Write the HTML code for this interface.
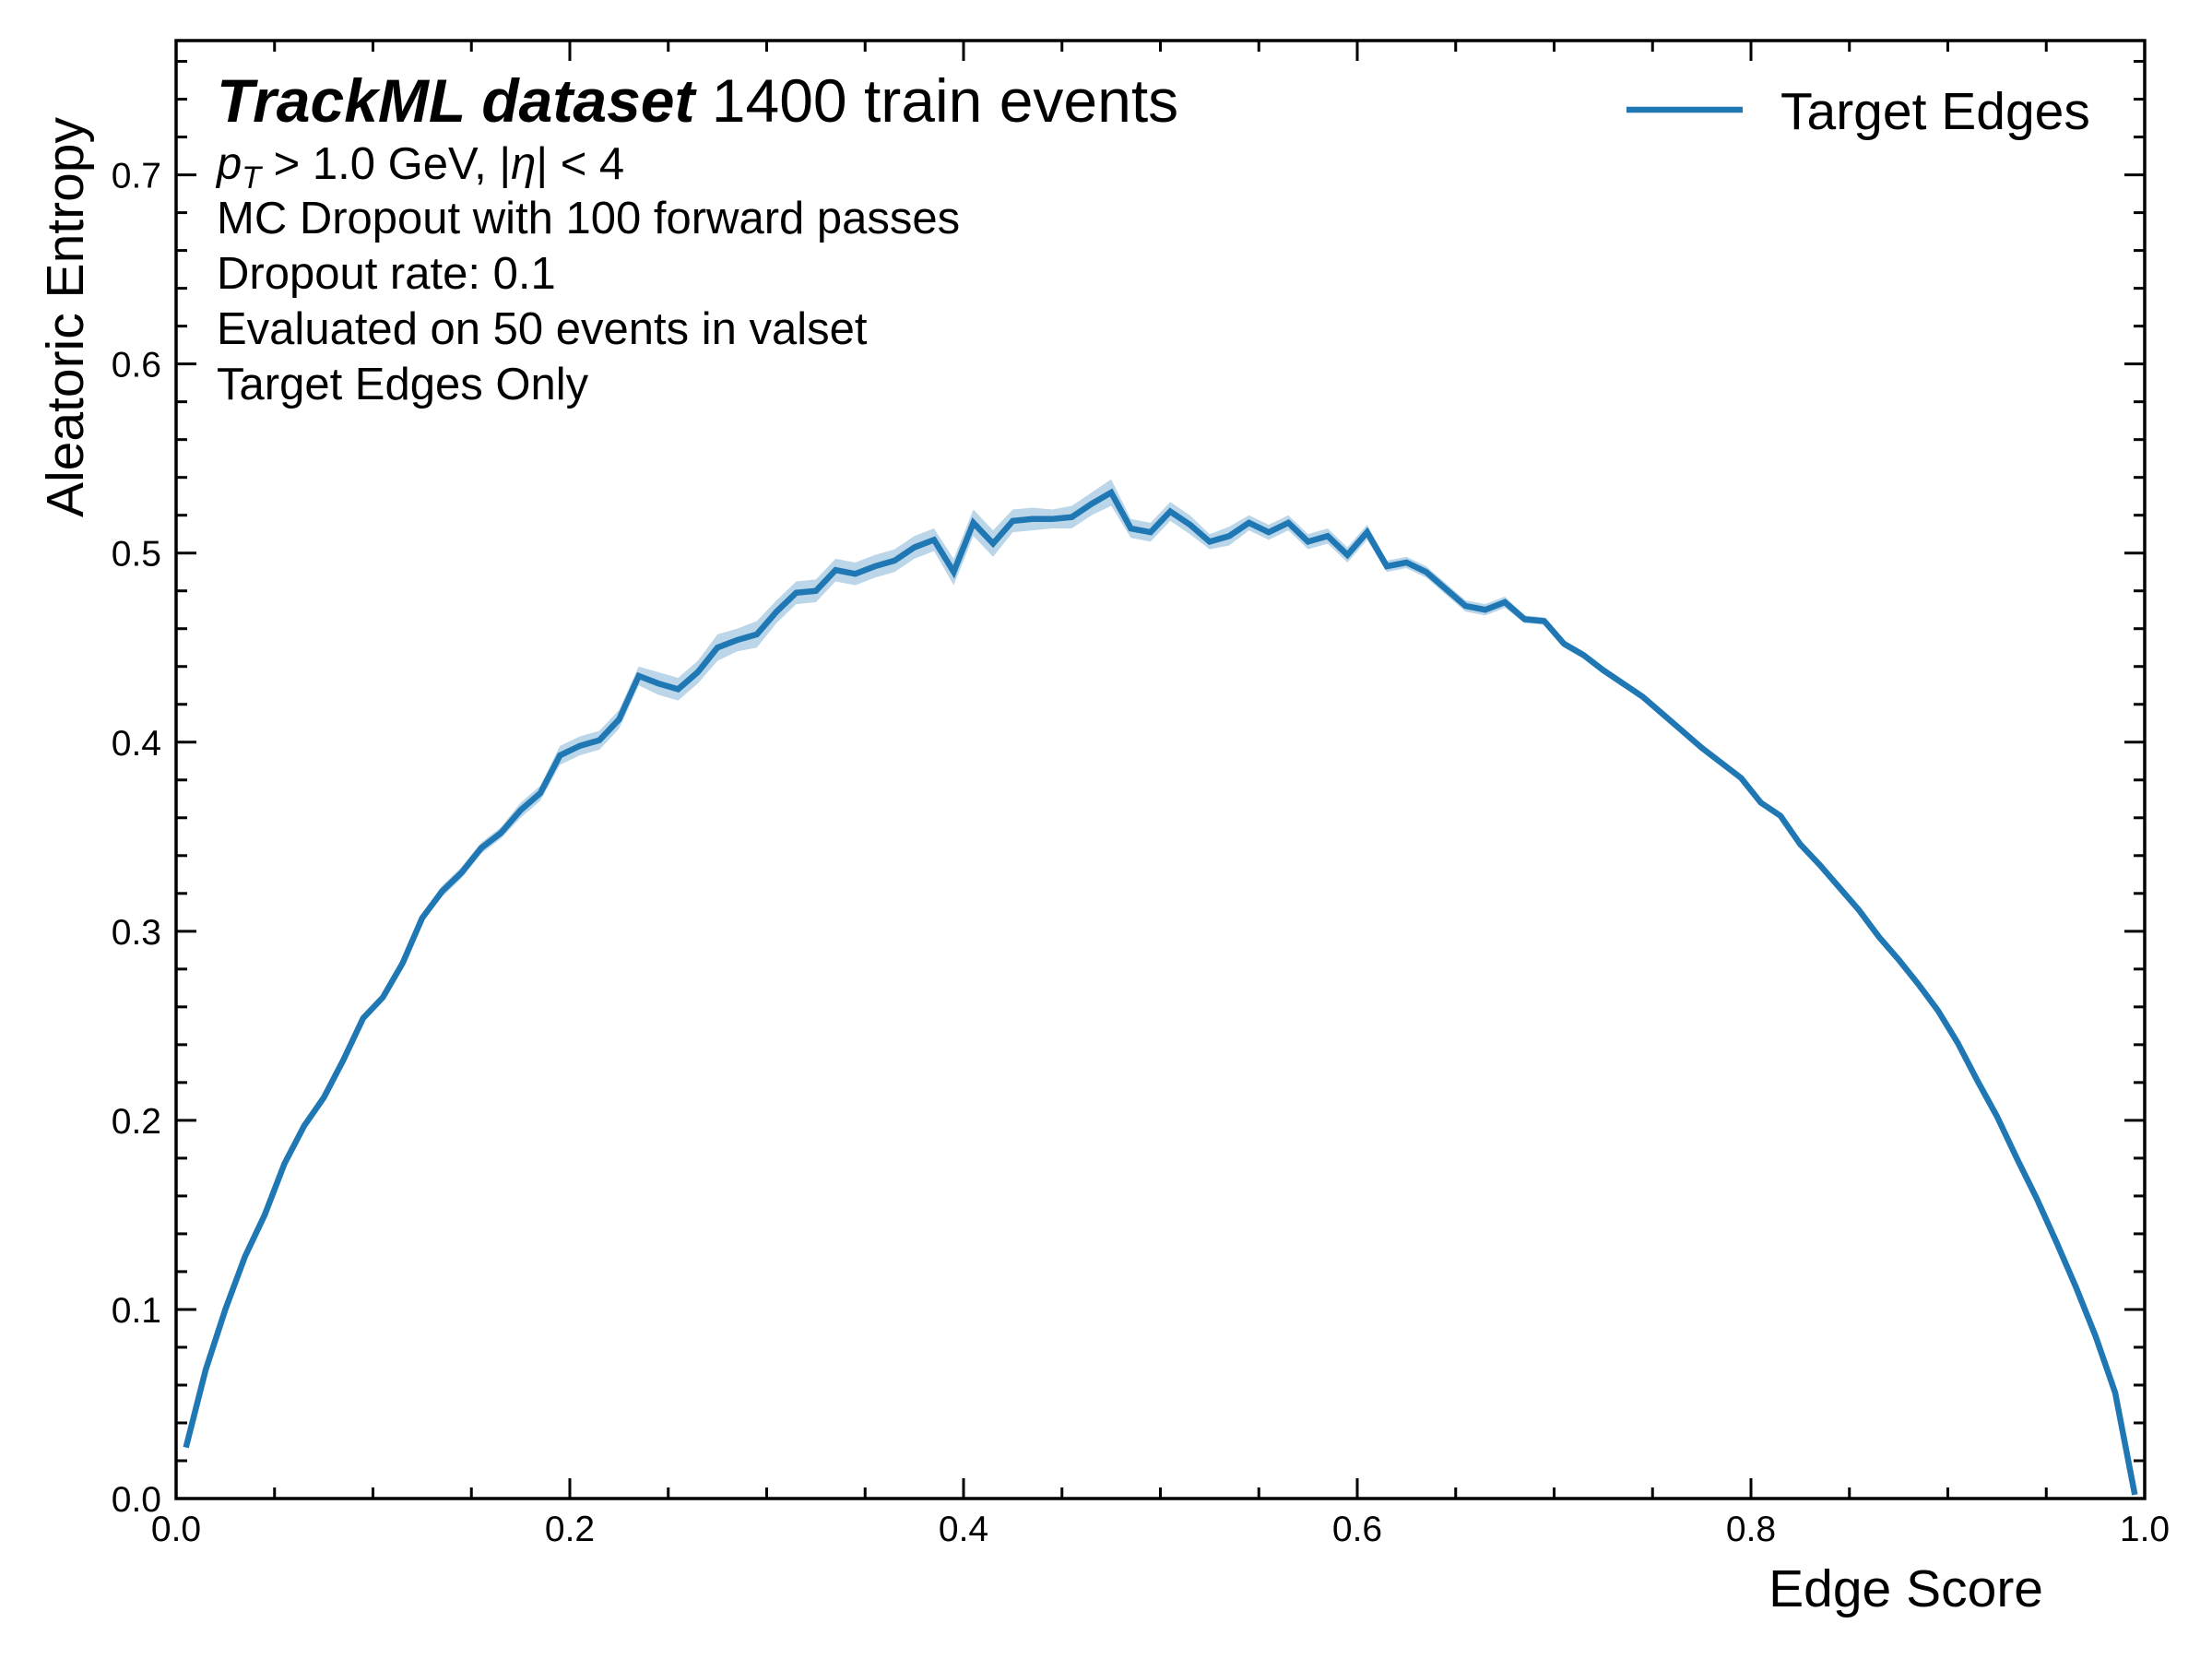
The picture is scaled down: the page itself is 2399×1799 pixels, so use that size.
<!DOCTYPE html>
<html><head><meta charset="utf-8"><style>
html,body{margin:0;padding:0;background:#fff;}
svg{display:block;font-family:"Liberation Sans",sans-serif;}
</style></head><body>
<svg id="chart" width="2399" height="1799" viewBox="0 0 2399 1799" xmlns="http://www.w3.org/2000/svg">
<rect width="2399" height="1799" fill="#fff"/>
<g id="band"></g>
<g id="line"></g>
<g id="axes"></g>
<g font-size="49">
<text x="235" y="132" font-size="66"><tspan font-weight="bold" font-style="italic">TrackML dataset</tspan> 1400 train events</text>
<text x="235" y="194"><tspan font-style="italic">p</tspan><tspan font-style="italic" font-size="34" dy="10">T</tspan><tspan dy="-10"> &gt; 1.0 GeV, |</tspan><tspan font-style="italic">η</tspan>| &lt; 4</text>
<text x="235" y="253">MC Dropout with 100 forward passes</text>
<text x="235" y="313">Dropout rate: 0.1</text>
<text x="235" y="373">Evaluated on 50 events in valset</text>
<text x="235" y="433">Target Edges Only</text>
</g>
<g>
<line x1="1764" y1="119" x2="1890" y2="119" stroke="#1f77b4" stroke-width="6.5"/>
<text x="1931" y="140" font-size="57">Target Edges</text>
</g>
<text x="2216" y="1742" font-size="57" text-anchor="end">Edge Score</text>
<text transform="translate(90,127) rotate(-90)" font-size="57" text-anchor="end">Aleatoric Entropy</text>
</svg>
<script>
const xs = [0.005,0.015,0.025,0.035,0.045,0.055,0.065,0.075,0.085,0.095,0.105,0.115,0.125,0.135,0.145,0.155,0.165,0.175,0.185,0.195,0.205,0.215,0.225,0.235,0.245,0.255,0.265,0.275,0.285,0.295,0.305,0.315,0.325,0.335,0.345,0.355,0.365,0.375,0.385,0.395,0.405,0.415,0.425,0.435,0.445,0.455,0.465,0.475,0.485,0.495,0.505,0.515,0.525,0.535,0.545,0.555,0.565,0.575,0.585,0.595,0.605,0.615,0.625,0.635,0.645,0.655,0.665,0.675,0.685,0.695,0.705,0.715,0.725,0.735,0.745,0.755,0.765,0.775,0.785,0.795,0.805,0.815,0.825,0.835,0.845,0.855,0.865,0.875,0.885,0.895,0.905,0.915,0.925,0.935,0.945,0.955,0.965,0.975,0.985,0.995];
const entropy = [0.027,0.068,0.100,0.128,0.150,0.177,0.197,0.212,0.232,0.254,0.265,0.283,0.307,0.321,0.331,0.344,0.352,0.364,0.373,0.393,0.398,0.401,0.412,0.435,0.431,0.428,0.437,0.450,0.454,0.457,0.469,0.479,0.480,0.491,0.489,0.493,0.496,0.503,0.507,0.490,0.516,0.505,0.517,0.518,0.518,0.519,0.526,0.532,0.513,0.511,0.522,0.515,0.506,0.509,0.516,0.511,0.516,0.506,0.509,0.499,0.511,0.493,0.495,0.490,0.481,0.472,0.470,0.474,0.465,0.464,0.452,0.446,0.438,0.431,0.424,0.415,0.406,0.397,0.389,0.381,0.368,0.361,0.346,0.335,0.323,0.311,0.297,0.285,0.272,0.258,0.241,0.221,0.202,0.180,0.159,0.136,0.112,0.086,0.056,0.002];
const errors = [0.001,0.001,0.001,0.001,0.001,0.001,0.001,0.001,0.001,0.002,0.002,0.002,0.002,0.003,0.003,0.003,0.003,0.004,0.004,0.005,0.005,0.005,0.005,0.005,0.006,0.006,0.006,0.007,0.006,0.007,0.006,0.006,0.006,0.006,0.006,0.006,0.006,0.006,0.006,0.007,0.007,0.007,0.006,0.006,0.005,0.006,0.006,0.007,0.005,0.005,0.005,0.005,0.004,0.005,0.004,0.004,0.004,0.004,0.004,0.004,0.004,0.003,0.003,0.003,0.003,0.003,0.003,0.003,0.002,0.002,0.002,0.002,0.002,0.002,0.001,0.001,0.001,0.001,0.001,0.001,0.001,0.001,0.001,0.001,0.001,0.001,0.001,0.001,0.001,0.001,0.001,0.001,0.001,0.001,0.001,0.001,0.001,0.001,0.001,0.001];
const xTicks = [0.0,0.2,0.4,0.6,0.8,1.0];
const xTickLabels = ["0.0","0.2","0.4","0.6","0.8","1.0"];
const yTicks = [0.0,0.1,0.2,0.3,0.4,0.5,0.6,0.7];
const yTickLabels = ["0.0","0.1","0.2","0.3","0.4","0.5","0.6","0.7"];

const L=191,R=2326,T=44,B=1625,YMAX=0.771;
const sx=v=>L+(R-L)*v;
const sy=v=>B-(B-T)*v/YMAX;
const NS='http://www.w3.org/2000/svg';
function mk(tag,attrs,parent){const e=document.createElementNS(NS,tag);for(const k in attrs)e.setAttribute(k,attrs[k]);parent.appendChild(e);return e;}

const band=document.getElementById('band');
let up=xs.map((x,i)=>sx(x)+','+sy(entropy[i]+errors[i]));
let dn=xs.map((x,i)=>sx(x)+','+sy(entropy[i]-errors[i])).reverse();
const bp=mk('polygon',{points:up.concat(dn).join(' '),fill:'#1f77b4','fill-opacity':'0.3',stroke:'none'},band);



const lg=document.getElementById('line');
const pl=mk('polyline',{points:xs.map((x,i)=>sx(x)+','+sy(entropy[i])).join(' '),fill:'none',stroke:'#1f77b4','stroke-width':'6.5','stroke-linejoin':'miter'},lg);



const ax=document.getElementById('axes');
const fr=mk('rect',{x:L,y:T,width:R-L,height:B-T,fill:'none',stroke:'#000','stroke-width':'3.5'},ax);


const MJ=22,MN=12;
for(let i=0;i<=20;i++){
  const v=i*0.05,x=sx(v),len=(i%4===0)?MJ:MN;
  const t1=mk('line',{x1:x,y1:B,x2:x,y2:B-len,stroke:'#000','stroke-width':'3'},ax);
  
  
  const t2=mk('line',{x1:x,y1:T,x2:x,y2:T+len,stroke:'#000','stroke-width':'3'},ax);
  
  
}
for(let i=0;i*0.02<=YMAX;i++){
  const v=i*0.02,y=sy(v),len=(i%5===0)?MJ:MN;
  const t1=mk('line',{x1:L,y1:y,x2:L+len,y2:y,stroke:'#000','stroke-width':'3'},ax);
  
  
  const t2=mk('line',{x1:R,y1:y,x2:R-len,y2:y,stroke:'#000','stroke-width':'3'},ax);
  
  
}
xTicks.forEach((v,i)=>{
  const t=mk('text',{x:sx(v),y:B+46,'font-size':'39','text-anchor':'middle'},ax);
  t.textContent=xTickLabels[i];
  
  
});
yTicks.forEach((v,i)=>{
  const t=mk('text',{x:L-16,y:sy(v)+14,'font-size':'39','text-anchor':'end'},ax);
  t.textContent=yTickLabels[i];
  
  
});
</script>
</body></html>
